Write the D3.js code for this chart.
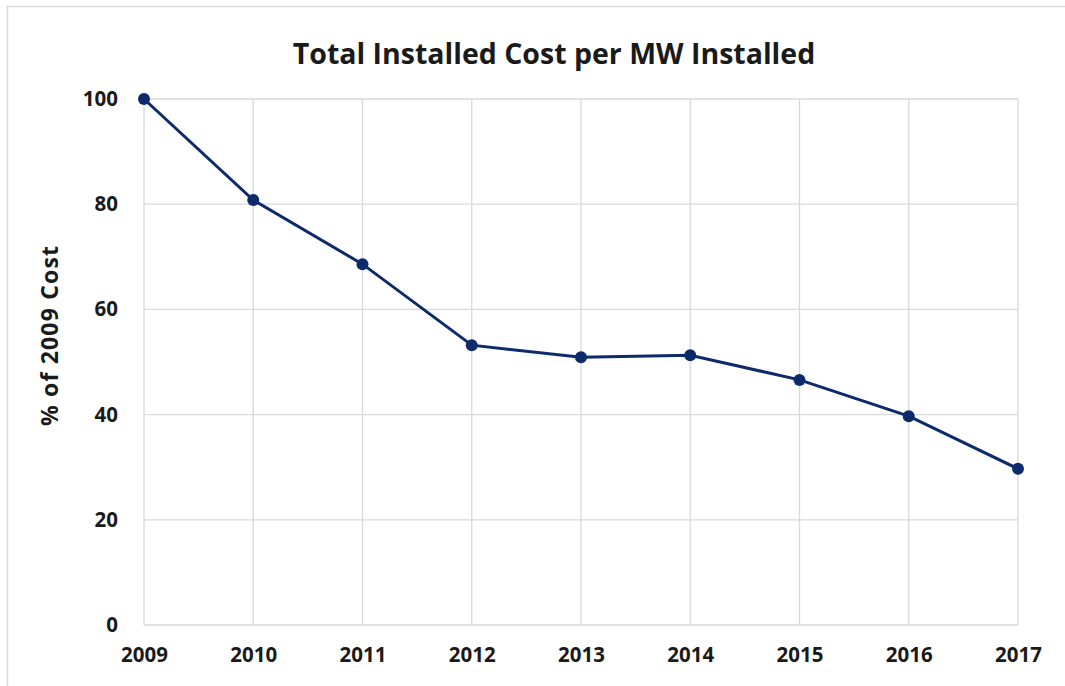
<!DOCTYPE html>
<html>
<head>
<meta charset="utf-8">
<script src="https://cdn.jsdelivr.net/npm/d3@7"></script>
<style>
  body { margin: 0; background: #fff; }
  svg { display: block; font-family: "Open Sans", "Liberation Sans", sans-serif; }
</style>
</head>
<body>
<div id="chart"></div>
<script>
// chart data
const years = ['2009', '2010', '2011', '2012', '2013', '2014', '2015', '2016', '2017'];
const costPct = [100, 80.8, 68.6, 53.2, 50.9, 51.3, 46.6, 39.7, 29.7];
const yTicks = [0, 20, 40, 60, 80, 100];

const W = 1065, H = 686;
const plot = { left: 144, right: 1018, top: 99, bottom: 625 };

const svg = d3.select('#chart').append('svg')
  .attr('width', W).attr('height', H);

// outer chart border
svg.append('rect')
  .attr('x', 7.5).attr('y', 6.5)
  .attr('width', W).attr('height', H)
  .attr('fill', 'none').attr('stroke', '#d9d9d9').attr('stroke-width', 1.5);

const x = d3.scalePoint().domain(years).range([plot.left, plot.right]);
const y = d3.scaleLinear().domain([0, 100]).range([plot.bottom, plot.top]);

// gridlines
const grid = svg.append('g').attr('stroke', '#d9d9d9').attr('stroke-width', 1.3);
grid.selectAll('.hg').data(yTicks).enter().append('line')
  .attr('x1', plot.left).attr('x2', plot.right)
  .attr('y1', d => y(d)).attr('y2', d => y(d));
grid.selectAll('.vg').data(years).enter().append('line')
  .attr('x1', d => x(d)).attr('x2', d => x(d))
  .attr('y1', plot.top).attr('y2', plot.bottom);

// axes labels (no axis lines, just text)
const yAxis = d3.axisLeft(y).tickValues(yTicks).tickSize(0).tickPadding(26);
svg.append('g').attr('transform', `translate(${plot.left},0)`).call(yAxis)
  .call(g => g.select('.domain').remove())
  .selectAll('text')
  .attr('font-size', 20.5).attr('font-weight', 'bold').attr('fill', '#1a1a1a')
  .attr('font-family', '"Open Sans", "Liberation Sans", sans-serif');

const xAxis = d3.axisBottom(x).tickSize(0).tickPadding(22);
svg.append('g').attr('transform', `translate(0,${plot.bottom})`).call(xAxis)
  .call(g => g.select('.domain').remove())
  .selectAll('text')
  .attr('font-size', 20.5).attr('font-weight', 'bold').attr('fill', '#1a1a1a')
  .attr('font-family', '"Open Sans", "Liberation Sans", sans-serif');

// title
svg.append('text')
  .attr('x', 554).attr('y', 64)
  .attr('text-anchor', 'middle')
  .attr('font-size', 28.5).attr('font-weight', 'bold').attr('fill', '#1a1a1a')
  .text('Total Installed Cost per MW Installed');

// y axis title
svg.append('text')
  .attr('transform', 'translate(58,336) rotate(-90)')
  .attr('text-anchor', 'middle')
  .attr('font-size', 23).attr('font-weight', 'bold').attr('fill', '#1a1a1a')
  .attr('textLength', 180).attr('lengthAdjust', 'spacing')
  .text('% of 2009 Cost');

// series
const line = d3.line().x((d, i) => x(years[i])).y(d => y(d));
svg.append('path')
  .datum(costPct)
  .attr('d', line)
  .attr('fill', 'none')
  .attr('stroke', '#0d2a6b')
  .attr('stroke-width', 3);

svg.selectAll('.pt').data(costPct).enter().append('circle')
  .attr('cx', (d, i) => x(years[i]))
  .attr('cy', d => y(d))
  .attr('r', 6)
  .attr('fill', '#0d2a6b');
</script>
</body>
</html>
